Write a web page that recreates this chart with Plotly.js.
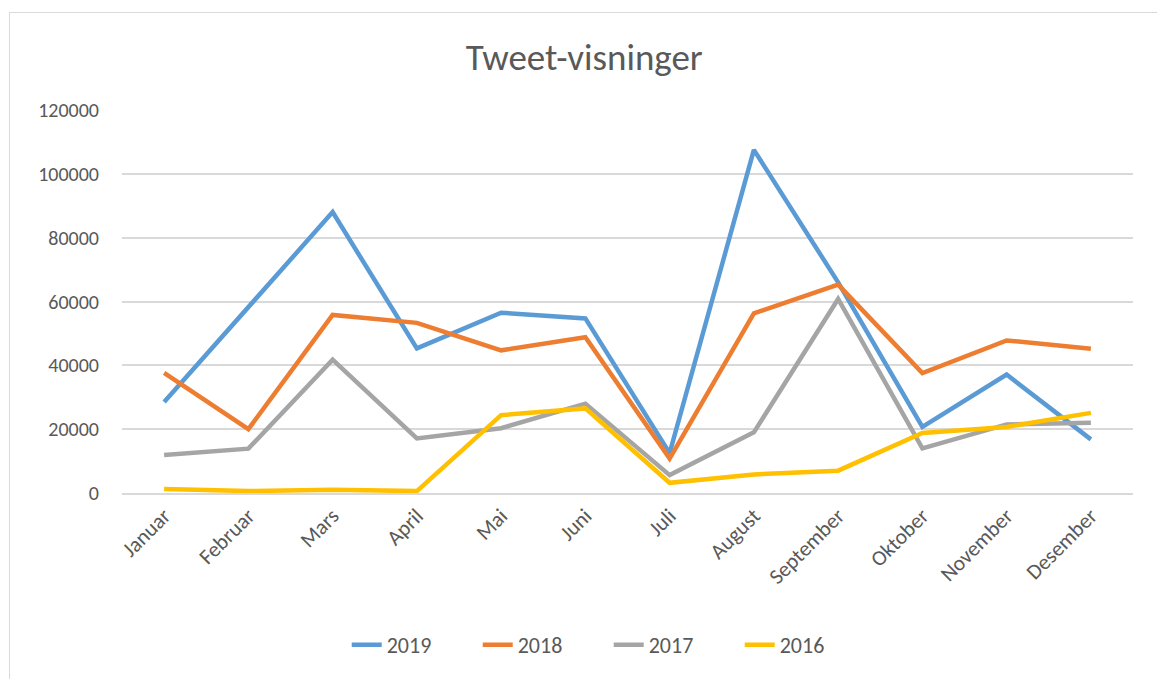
<!DOCTYPE html>
<html>
<head>
<meta charset="utf-8">
<script src="https://cdn.plot.ly/plotly-3.0.1.min.js"></script>
<style>
  html, body { margin: 0; padding: 0; background: #fff; }
  #frame { position: absolute; left: 9px; top: 12px; width: 1160px; height: 680px; border: 1.5px solid #D9D9D9; box-sizing: border-box; }
  #chart { position: absolute; left: 0; top: 0; width: 1157px; height: 679px; }
</style>
</head>
<body>
<div id="frame"></div>
<div id="chart"></div>
<script>
const months = ["Januar","Februar","Mars","April","Mai","Juni","Juli","August","September","Oktober","November","Desember"];
const v2019 = [28500, 58500, 88000, 45300, 56500, 54700, 12500, 107500, 66000, 20700, 37100, 16800];
const v2018 = [37600, 20000, 55800, 53300, 44700, 48800, 10800, 56300, 65300, 37600, 47800, 45200];
const v2017 = [11900, 13900, 41800, 17100, 20300, 28000, 5600, 19000, 60800, 14000, 21500, 22000];
const v2016 = [1250, 600, 1000, 600, 24400, 26500, 3200, 5800, 7000, 18800, 20700, 25100];
const seriesNames = ["2019","2018","2017","2016"];
const seriesColors = ["#5B9BD5","#ED7D31","#A5A5A5","#FFC000"];
const seriesValues = [v2019, v2018, v2017, v2016];

const traces = seriesValues.map((vals, i) => ({
  type: "scatter",
  mode: "lines",
  name: seriesNames[i],
  x: months,
  y: vals,
  line: { color: seriesColors[i], width: 4.5 },
  hoverinfo: "x+y+name"
}));

const font = "Calibri, Carlito, Lato, 'Liberation Sans', Arial, sans-serif";
const layout = {
  width: 1157,
  height: 679,
  margin: { l: 122, r: 24, t: 110, b: 186 },
  paper_bgcolor: "rgba(0,0,0,0)",
  plot_bgcolor: "rgba(0,0,0,0)",
  font: { family: font, color: "#595959", size: 20 },
  title: {
    text: "Tweet-visninger",
    font: { family: font, size: 37, color: "#595959" },
    x: 0.505, xanchor: "center",
    y: 1 - 57/679, yanchor: "middle"
  },
  xaxis: {
    type: "category",
    range: [-0.5, 11.5],
    tickangle: -45,
    showgrid: false,
    zeroline: false,
    showline: true,
    linecolor: "#D9D9D9",
    linewidth: 1.5,
    ticks: "",
    automargin: false,
    tickfont: { family: font, size: 21.5, color: "#595959" },
    fixedrange: true
  },
  yaxis: {
    range: [0, 120000],
    tickvals: [0, 20000, 40000, 60000, 80000, 100000, 120000],
    ticktext: ["0","20000","40000","60000","80000","100000","120000"],
    showgrid: true,
    gridcolor: "#D9D9D9",
    gridwidth: 1.5,
    zeroline: false,
    showline: false,
    ticks: "",
    automargin: false,
    ticklabelstandoff: 22,
    tickfont: { family: font, size: 20, color: "#595959" },
    fixedrange: true
  },
  showlegend: true,
  legend: {
    orientation: "h",
    x: 0.5 - (627 - 588) / 1011 + 0.02, xanchor: "center",
    y: (493 - 645) / 383, yanchor: "middle",
    font: { family: font, size: 22, color: "#595959" },
    entrywidth: 86,
    entrywidthmode: "pixels",
    traceorder: "normal"
  }
};

Plotly.newPlot("chart", traces, layout, { displayModeBar: false });
</script>
</body>
</html>
